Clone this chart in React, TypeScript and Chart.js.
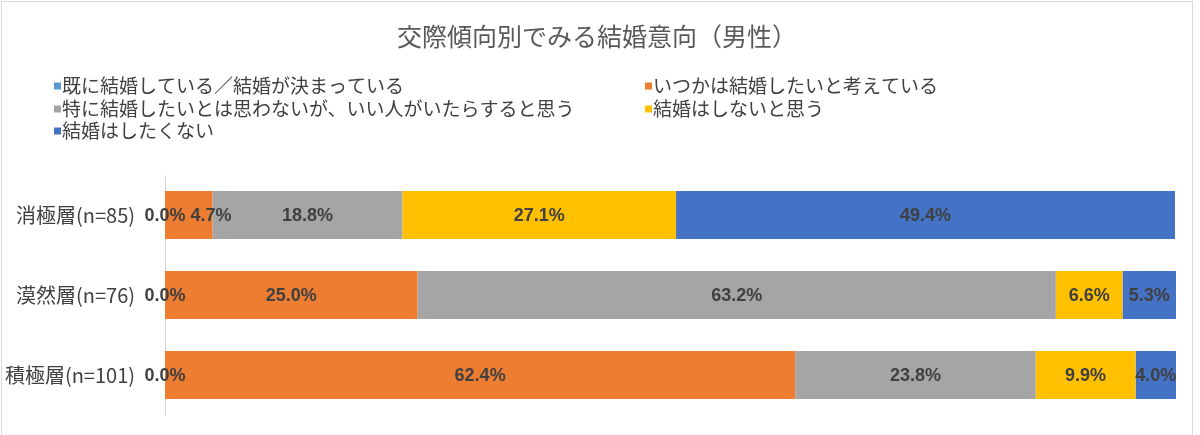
import React, { useEffect, useRef } from "react";
import { Chart, registerables } from "chart.js";

Chart.register(...registerables);

// Survey groups (by dating attitude) and the share of each marriage intention, in %
const chartTitle = "交際傾向別でみる結婚意向（男性）";
const categories = ["消極層(n=85)", "漠然層(n=76)", "積極層(n=101)"];
const seriesLabels = [
  "既に結婚している／結婚が決まっている",
  "いつかは結婚したいと考えている",
  "特に結婚したいとは思わないが、いい人がいたらすると思う",
  "結婚はしないと思う",
  "結婚はしたくない",
];
const alreadyMarried = [0.0, 0.0, 0.0];
const somedayWant = [4.7, 25.0, 62.4];
const ifRightPerson = [18.8, 63.2, 23.8];
const thinkWont = [27.1, 6.6, 9.9];
const doNotWant = [49.4, 5.3, 4.0];
const seriesColors = ["#5B9BD5", "#ED7D31", "#A5A5A5", "#FFC000", "#4472C4"];

const CJK = '"Noto Sans CJK JP", "Noto Sans", sans-serif';

// Value labels centred in each bar segment; a label that would run into the
// previous one in the same row is nudged to the right of it.
const segmentLabels = {
  id: "segmentLabels",
  afterDatasetsDraw(chart: any) {
    const { ctx } = chart;
    ctx.save();
    ctx.font = 'bold 18px "Liberation Sans", Arial, sans-serif';
    ctx.fillStyle = "#404040";
    ctx.textAlign = "center";
    ctx.textBaseline = "middle";
    const lastRight: number[] = [];
    chart.data.datasets.forEach((ds: any, di: number) => {
      const meta = chart.getDatasetMeta(di);
      meta.data.forEach((bar: any, i: number) => {
        const text = ds.data[i].toFixed(1) + "%";
        const w = ctx.measureText(text).width;
        let cx = (bar.x + bar.base) / 2;
        if (lastRight[i] !== undefined && cx - w / 2 < lastRight[i] + 5) {
          cx = lastRight[i] + 5 + w / 2;
        }
        lastRight[i] = cx + w / 2;
        ctx.fillText(text, cx, bar.y + 1);
      });
    });
    ctx.restore();
  },
};

// Frame, title and a two-column legend above the plot area
const header = {
  id: "header",
  beforeDraw(chart: any) {
    const { ctx, width, height } = chart;
    ctx.save();
    ctx.fillStyle = "#ffffff";
    ctx.fillRect(0, 0, width, height);
    ctx.strokeStyle = "#d9d9d9";
    ctx.lineWidth = 1;
    ctx.strokeRect(1.5, 1.5, 1191, height + 10);
    ctx.restore();
  },
  afterDraw(chart: any) {
    const { ctx } = chart;
    ctx.save();
    ctx.font = "25px " + CJK;
    ctx.fillStyle = "#595959";
    ctx.textAlign = "center";
    ctx.textBaseline = "middle";
    ctx.fillText(chartTitle, 597, 36);

    const colX = [54, 645];
    const rowY = [86, 109, 131];
    ctx.font = "19px " + CJK;
    ctx.textAlign = "left";
    chart.data.datasets.forEach((ds: any, i: number) => {
      const x = colX[i % 2];
      const y = rowY[Math.floor(i / 2)];
      ctx.fillStyle = ds.backgroundColor;
      ctx.fillRect(x, y - 3.5, 7, 7);
      ctx.fillStyle = "#404040";
      ctx.fillText(ds.label, x + 8, y);
    });
    ctx.restore();
  },
};

export default function App() {
  const canvasRef = useRef<HTMLCanvasElement | null>(null);

  useEffect(() => {
    document.body.style.margin = "0";
    const values = [alreadyMarried, somedayWant, ifRightPerson, thinkWont, doNotWant];
    const chart = new Chart(canvasRef.current as HTMLCanvasElement, {
      type: "bar",
      data: {
        labels: categories,
        datasets: values.map((data, i) => ({
          label: seriesLabels[i],
          data,
          backgroundColor: seriesColors[i],
          borderWidth: 0,
          categoryPercentage: 0.6,
          barPercentage: 1.0,
        })),
      },
      options: {
        indexAxis: "y",
        responsive: false,
        animation: false,
        layout: { padding: { left: 0, right: 24, top: 175, bottom: 20 } },
        scales: {
          x: {
            stacked: true,
            min: 0,
            max: 100.1,
            display: false,
          },
          y: {
            stacked: true,
            grid: { display: false, drawTicks: false },
            border: { display: true, color: "#d9d9d9", width: 1 },
            ticks: {
              padding: 30,
              color: "#404040",
              font: { family: CJK, size: 20 },
            },
            afterFit(scale: any) {
              scale.width = 165;
              scale.paddingTop = 0;
              scale.paddingBottom = 0;
            },
          },
        },
        plugins: {
          legend: { display: false },
          title: { display: false },
          tooltip: { enabled: false },
        },
      },
      plugins: [segmentLabels, header],
    });
    return () => chart.destroy();
  }, []);

  return (
    <div style={{ position: "absolute", left: 0, top: 0, width: 1200, height: 435 }}>
      <canvas ref={canvasRef} width={1200} height={435} />
    </div>
  );
}
